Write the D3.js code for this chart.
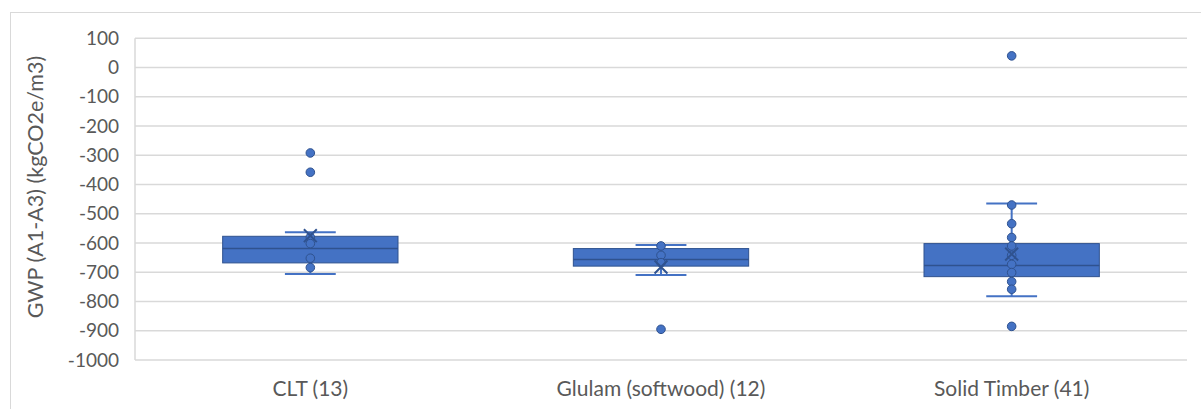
<!DOCTYPE html>
<html>
<head>
<meta charset="utf-8">
<script src="https://cdn.jsdelivr.net/npm/d3@7"></script>
<style>
html,body{margin:0;padding:0;background:#fff;}
svg{display:block;}
text{font-family:Lato,"Open Sans",sans-serif;fill:#595959;}
</style>
</head>
<body>
<svg id="chart" width="1201" height="409"></svg>
<script>
// ---- data ----
const categories = ["CLT (13)", "Glulam (softwood) (12)", "Solid Timber (41)"];
const q1 = [-668, -679, -715];
const medians = [-619, -656, -677];
const q3 = [-577, -619, -602];
const whiskerLow = [-706, -709, -782];
const whiskerHigh = [-563, -607, -465];
const means = [-575, -682, -638];
const pointsCLT = [-292, -358, -580, -602, -652, -684];
const pointsGlulam = [-610, -642, -667, -895];
const pointsSolid = [40, -470, -534, -581, -610, -642, -673, -701, -732, -758, -885];
const yTicks = [100, 0, -100, -200, -300, -400, -500, -600, -700, -800, -900, -1000];
const yTitle = "GWP (A1-A3) (kgCO2e/m3)";

const points = [pointsCLT, pointsGlulam, pointsSolid];

const svg = d3.select("#chart");
const plot = {left: 135, right: 1187, top: 38.3, bottom: 360};

const y = d3.scaleLinear().domain([-1000, 100]).range([plot.bottom, plot.top]);
const x = d3.scaleBand().domain(categories).range([plot.left, plot.right]).padding(0);

const boxFill = "#4472C4", boxStroke = "#2F528F";
const fontFam = "Lato, 'Open Sans', sans-serif";

// chart border
svg.append("rect").attr("x", 10.5).attr("y", 12.5).attr("width", 1200).attr("height", 420)
  .attr("fill", "none").attr("stroke", "#d9d9d9").attr("stroke-width", 1);

// gridlines
svg.append("g").selectAll("line").data(yTicks).join("line")
  .attr("x1", plot.left).attr("x2", plot.right)
  .attr("y1", d => y(d)).attr("y2", d => y(d))
  .attr("stroke", "#d9d9d9").attr("stroke-width", 1.5);
svg.append("line").attr("x1", plot.left).attr("x2", plot.left)
  .attr("y1", y(100)).attr("y2", y(-1000))
  .attr("stroke", "#d9d9d9").attr("stroke-width", 1.5);

// y axis labels
const yAxis = d3.axisLeft(y).tickValues(yTicks).tickSize(0).tickPadding(0).tickFormat(d => String(d));
const gy = svg.append("g").attr("transform", `translate(${119},0)`).call(yAxis);
gy.select(".domain").remove();
gy.selectAll("text").attr("font-size", 19).attr("fill", "#595959").style("font-family", fontFam);

// x axis labels
const xAxis = d3.axisBottom(x).tickSize(0).tickPadding(0);
const gx = svg.append("g").attr("transform", `translate(0,${381})`).call(xAxis);
gx.select(".domain").remove();
gx.selectAll("text").attr("font-size", 21).attr("fill", "#595959").style("font-family", fontFam);

// y title
svg.append("text")
  .attr("transform", `translate(43,${187}) rotate(-90)`)
  .attr("text-anchor", "middle")
  .attr("font-size", 21.5)
  .text(yTitle);

const bw = x.bandwidth();
const boxW = bw * 0.5;
const capW = bw * 0.145;

categories.forEach((c, i) => {
  const cx = x(c) + bw / 2;
  const g = svg.append("g");
  // whiskers
  g.append("line").attr("x1", cx).attr("x2", cx).attr("y1", y(q3[i])).attr("y2", y(whiskerHigh[i]))
    .attr("stroke", boxFill).attr("stroke-width", 2);
  g.append("line").attr("x1", cx).attr("x2", cx).attr("y1", y(q1[i])).attr("y2", y(whiskerLow[i]))
    .attr("stroke", boxFill).attr("stroke-width", 2);
  g.append("line").attr("x1", cx - capW / 2).attr("x2", cx + capW / 2)
    .attr("y1", y(whiskerHigh[i])).attr("y2", y(whiskerHigh[i]))
    .attr("stroke", boxFill).attr("stroke-width", 2);
  g.append("line").attr("x1", cx - capW / 2).attr("x2", cx + capW / 2)
    .attr("y1", y(whiskerLow[i])).attr("y2", y(whiskerLow[i]))
    .attr("stroke", boxFill).attr("stroke-width", 2);
  // box
  g.append("rect").attr("x", cx - boxW / 2).attr("width", boxW)
    .attr("y", y(q3[i])).attr("height", y(q1[i]) - y(q3[i]))
    .attr("fill", boxFill).attr("stroke", boxStroke).attr("stroke-width", 1);
  // median
  g.append("line").attr("x1", cx - boxW / 2).attr("x2", cx + boxW / 2)
    .attr("y1", y(medians[i])).attr("y2", y(medians[i]))
    .attr("stroke", boxStroke).attr("stroke-width", 1.5);
  // points
  g.selectAll("circle").data(points[i]).join("circle")
    .attr("cx", cx).attr("cy", d => y(d)).attr("r", 4.3)
    .attr("fill", boxFill).attr("stroke", boxStroke).attr("stroke-width", 1);
  // mean marker
  const sym = d3.symbolTimes || d3.symbolX || d3.symbolCross;
  g.append("path").attr("d", d3.symbol().type(sym).size(110)())
    .attr("transform", `translate(${cx},${y(means[i])})`)
    .attr("fill", "none").attr("stroke", boxStroke).attr("stroke-width", 2);
});
</script>
</body>
</html>
